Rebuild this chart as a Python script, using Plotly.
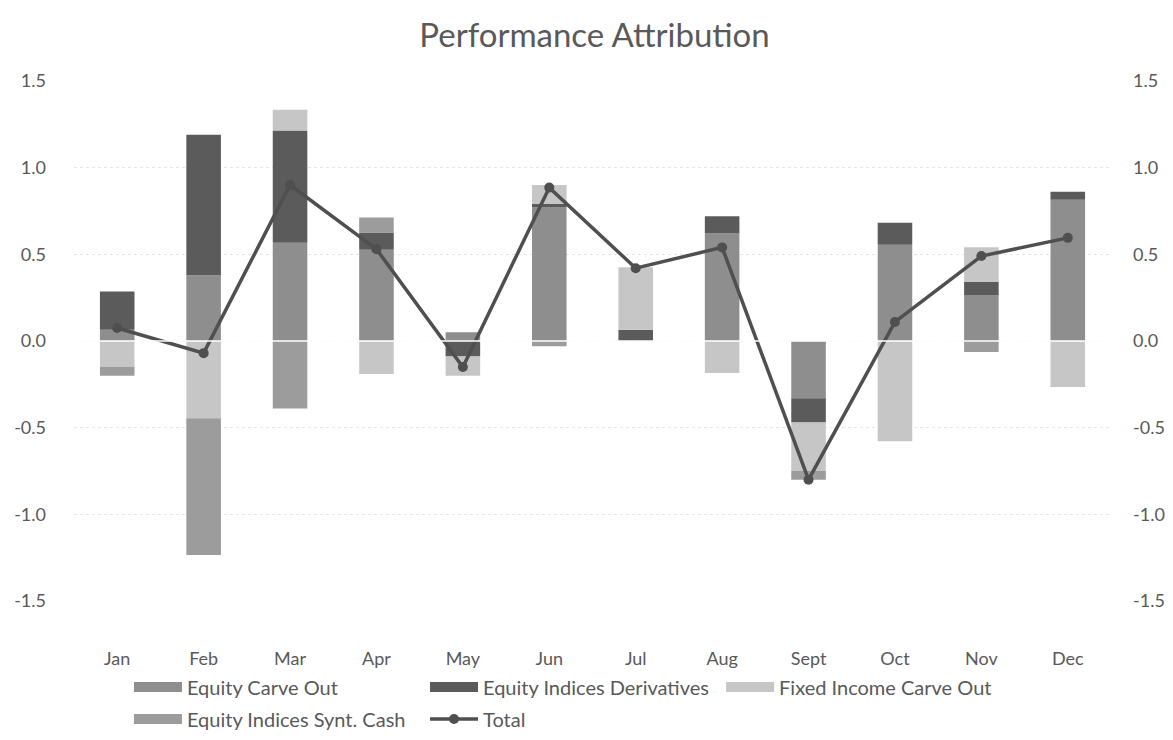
import plotly.graph_objects as go

months = ["Jan", "Feb", "Mar", "Apr", "May", "Jun", "Jul", "Aug", "Sept", "Oct", "Nov", "Dec"]

equity_carve_out = [0.065, 0.38, 0.567, 0.526, 0.05, 0.77, 0.0, 0.62, -0.33, 0.555, 0.266, 0.815]
equity_indices_derivatives = [0.22, 0.81, 0.647, 0.10, -0.09, 0.02, 0.065, 0.10, -0.14, 0.127, 0.075, 0.046]
fixed_income_carve_out = [-0.15, -0.445, 0.12, -0.19, -0.11, 0.11, 0.36, -0.185, -0.28, -0.578, 0.20, -0.266]
equity_indices_synt_cash = [-0.05, -0.79, -0.39, 0.087, 0.0, -0.03, 0.0, 0.0, -0.05, 0.0, -0.064, 0.0]
total = [0.075, -0.07, 0.90, 0.53, -0.15, 0.885, 0.42, 0.54, -0.80, 0.11, 0.49, 0.595]

tick_vals = [-1.5, -1.0, -0.5, 0.0, 0.5, 1.0, 1.5]
tick_text = ["-1.5", "-1.0", "-0.5", "0.0", "0.5", "1.0", "1.5"]

FONT = "Lato, 'Open Sans', sans-serif"
TXT = "#595959"

fig = go.Figure()
series = [
    ("Equity Carve Out", equity_carve_out, "#8e8e8e", "legend2"),
    ("Equity Indices Derivatives", equity_indices_derivatives, "#5b5b5b", "legend3"),
    ("Fixed Income Carve Out", fixed_income_carve_out, "#c6c6c6", "legend4"),
    ("Equity Indices Synt. Cash", equity_indices_synt_cash, "#9c9c9c", "legend5"),
]
for name, vals, col, lgid in series:
    fig.add_trace(go.Bar(x=months, y=vals, name=name, marker=dict(color=col, line=dict(width=0)),
                         showlegend=False, legendgroup=name))
    # wide rectangular legend swatch (legend entry only, no data)
    fig.add_trace(go.Scatter(x=[None], y=[None], mode="lines", name=name,
                             line=dict(color=col, width=11), legend=lgid, legendgroup=name,
                             showlegend=True, hoverinfo="skip"))

fig.add_trace(go.Scatter(x=months, y=total, name="Total", mode="lines+markers",
                         line=dict(color="#4f4f4f", width=3.5),
                         marker=dict(color="#4f4f4f", size=10),
                         yaxis="y2", legend="legend6", showlegend=True))

fig.add_shape(type="line", xref="paper", x0=0, x1=1, yref="y", y0=0, y1=0,
              line=dict(color="white", width=1.5), layer="above")

def lg(x, y):
    return dict(orientation="h", x=x, xanchor="left", y=y, yanchor="middle",
                font=dict(size=20, color=TXT), itemwidth=48, bgcolor="rgba(0,0,0,0)")

fig.update_layout(
    width=1173, height=740,
    margin=dict(l=66, r=70, t=73, b=147, autoexpand=False),
    paper_bgcolor="white", plot_bgcolor="white",
    barmode="relative", bargap=0.6,
    showlegend=True,
    font=dict(family=FONT, color=TXT, size=17),
    title=dict(text="Performance Attribution", x=0.5, xanchor="center", y=0.9635, yanchor="middle",
               font=dict(family=FONT, size=33, color=TXT)),
    xaxis=dict(range=[-0.5, 11.5], showgrid=False, zeroline=False, showline=False, ticks="",
               automargin=False, tickfont=dict(size=18, color=TXT), ticklabelstandoff=45),
    yaxis=dict(range=[-1.5, 1.5], tickvals=tick_vals, ticktext=tick_text, showgrid=True,
               gridcolor="#e6e6e6", griddash="dot", gridwidth=1, zeroline=False, showline=False,
               ticks="", automargin=False, tickfont=dict(size=18, color=TXT), ticklabelstandoff=27),
    yaxis2=dict(range=[-1.5, 1.5], tickvals=tick_vals, ticktext=tick_text, overlaying="y",
                side="right", showgrid=False, zeroline=False, showline=False, ticks="",
                automargin=False, tickfont=dict(size=18, color=TXT), ticklabelstandoff=21),
    legend2=lg(0.053, -0.1654),
    legend3=lg(0.3385, -0.1654),
    legend4=lg(0.624, -0.1654),
    legend5=lg(0.053, -0.227),
    legend6=lg(0.3385, -0.227),
)

fig.write_html("out.html")
